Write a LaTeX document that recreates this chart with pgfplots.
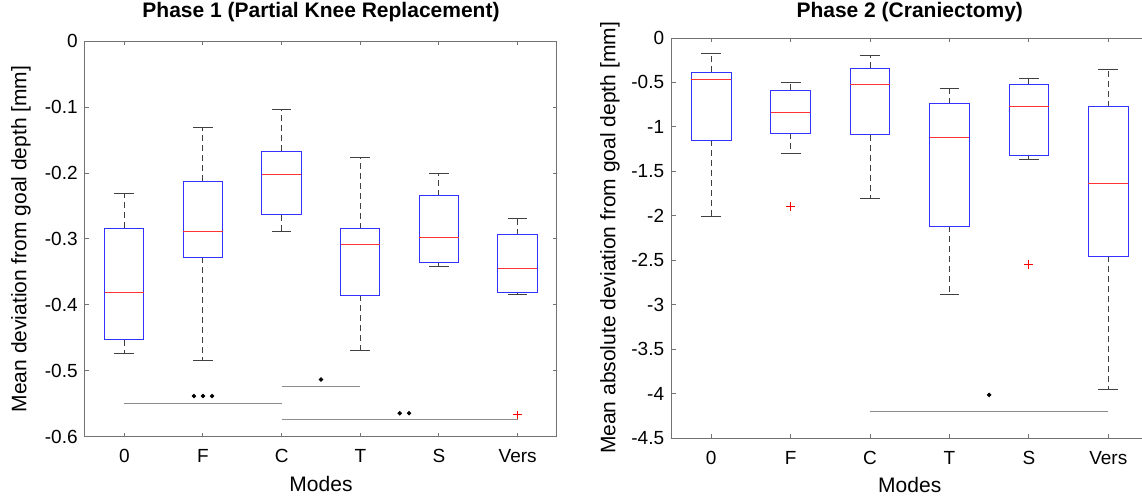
\documentclass[border=0pt]{standalone}
\usepackage{fontspec}
\setmainfont{Liberation Sans}
\usepackage{pgfplots}
\pgfplotsset{compat=1.18}
\usepgfplotslibrary{statistics}

\tikzset{
  whisk/.style={black!75, line width=0.5pt, dash pattern=on 3pt off 2pt},
  wcap/.style={black!75, line width=0.5pt},
}

\pgfplotsset{
  matbox/.style={
    scale only axis,
    xmin=0.5, xmax=6.5,
    xtick={1,2,3,4,5,6},
    xticklabels={0,F,C,T,S,Vers},
    axis line style={black!55, line width=0.5pt},
    tick style={black!55, line width=0.5pt},
    major tick length=2.2pt,
    tick align=inside,
    /pgf/number format/assume math mode=true,
    ticklabel style={font=\fontsize{9.5}{11}\selectfont},
    xticklabel style={anchor=base, yshift=-13pt},
    yticklabel style={anchor=east, inner sep=0pt, xshift=-3.5pt},
    label style={font=\fontsize{10.5}{12}\selectfont},
    title style={font=\fontsize{10.5}{12}\selectfont\bfseries, anchor=base},
    xlabel={Modes},
    xlabel style={at={(axis description cs:0.5,0)}, anchor=base, yshift=-27.35pt},
    boxplot/draw direction=y,
    boxplot/box extend=0.5,
    boxplot/whisker extend=0.25,
    boxplot/every box/.style={draw=blue!80, line width=0.5pt},
    boxplot/every median/.style={draw=red!80, line width=0.5pt},
    boxplot/draw/lower whisker/.code={
      \draw[whisk] (boxplot box cs:\pgfplotsboxplotvalue{lower quartile},0.5)
        -- (boxplot box cs:\pgfplotsboxplotvalue{lower whisker},0.5);
      \draw[wcap] (boxplot whisker cs:\pgfplotsboxplotvalue{lower whisker},0)
        -- (boxplot whisker cs:\pgfplotsboxplotvalue{lower whisker},1);
    },
    boxplot/draw/upper whisker/.code={
      \draw[whisk] (boxplot box cs:\pgfplotsboxplotvalue{upper quartile},0.5)
        -- (boxplot box cs:\pgfplotsboxplotvalue{upper whisker},0.5);
      \draw[wcap] (boxplot whisker cs:\pgfplotsboxplotvalue{upper whisker},0)
        -- (boxplot whisker cs:\pgfplotsboxplotvalue{upper whisker},1);
    },
  },
  sig/.style={black!45, line width=0.5pt, mark=none},
  stars/.style={only marks, mark=*, mark size=0.9pt, black},
  outl/.style={only marks, mark=+, mark size=2.2pt, red, line width=0.5pt},
}

\begin{document}
\begin{tikzpicture}
% Phase 1
\begin{axis}[matbox,
    at={(42.5pt,-20.5pt)}, anchor=north west,
    width=236pt, height=198pt,
    ymin=-0.6, ymax=0,
    ytick={-0.6,-0.5,-0.4,-0.3,-0.2,-0.1,0},
    title={Phase 1 (Partial Knee Replacement)},
    title style={at={(axis description cs:0.5,1)}, yshift=5.85pt},
    ylabel={Mean deviation from goal depth [mm]},
    ylabel style={at={(axis description cs:-0.1356,0.5)}, anchor=center},
  ]
  \addplot[boxplot prepared={draw position=1, lower whisker=-0.474, lower quartile=-0.453,
    median=-0.3806, upper quartile=-0.2836, upper whisker=-0.2318}] coordinates {};
  \addplot[boxplot prepared={draw position=2, lower whisker=-0.4842, lower quartile=-0.3278,
    median=-0.2881, upper quartile=-0.2122, upper whisker=-0.1317}] coordinates {};
  \addplot[boxplot prepared={draw position=3, lower whisker=-0.2881, lower quartile=-0.2629,
    median=-0.2021, upper quartile=-0.1674, upper whisker=-0.1036}] coordinates {};
  \addplot[boxplot prepared={draw position=4, lower whisker=-0.4691, lower quartile=-0.3856,
    median=-0.3087, upper quartile=-0.2846, upper whisker=-0.1770}] coordinates {};
  \addplot[boxplot prepared={draw position=5, lower whisker=-0.3419, lower quartile=-0.3359,
    median=-0.2971, upper quartile=-0.2348, upper whisker=-0.2001}] coordinates {};
  \addplot[boxplot prepared={draw position=6, lower whisker=-0.3836, lower quartile=-0.3806,
    median=-0.3454, upper quartile=-0.2936, upper whisker=-0.2685}] coordinates {};
  \addplot[outl] coordinates {(6,-0.5666)};
  % significance bars
  \addplot[sig] coordinates {(1,-0.5485) (3,-0.5485)};
  \addplot[stars] coordinates {(1.885,-0.538) (2,-0.538) (2.115,-0.538)};
  \addplot[sig] coordinates {(3,-0.5234) (4,-0.5234)};
  \addplot[stars] coordinates {(3.5,-0.513)};
  \addplot[sig] coordinates {(3,-0.5731) (6,-0.5731)};
  \addplot[stars] coordinates {(4.50,-0.564) (4.62,-0.564)};
\end{axis}

% Phase 2
\begin{axis}[matbox,
    at={(335.75pt,-19pt)}, anchor=north west,
    width=238.25pt, height=200pt,
    ymin=-4.5, ymax=0,
    ytick={-4.5,-4,-3.5,-3,-2.5,-2,-1.5,-1,-0.5,0},
    title={Phase 2 (Craniectomy)},
    title style={at={(axis description cs:0.5,1)}, yshift=4.35pt},
    ylabel={Mean absolute deviation from goal depth [mm]},
    ylabel style={at={(axis description cs:-0.129,0.5)}, anchor=center},
  ]
  \addplot[boxplot prepared={draw position=1, lower whisker=-2.008, lower quartile=-1.150,
    median=-0.462, upper quartile=-0.387, upper whisker=-0.177}] coordinates {};
  \addplot[boxplot prepared={draw position=2, lower whisker=-1.301, lower quartile=-1.071,
    median=-0.838, upper quartile=-0.590, upper whisker=-0.496}] coordinates {};
  \addplot[boxplot prepared={draw position=3, lower whisker=-1.801, lower quartile=-1.086,
    median=-0.526, upper quartile=-0.342, upper whisker=-0.195}] coordinates {};
  \addplot[boxplot prepared={draw position=4, lower whisker=-2.883, lower quartile=-2.120,
    median=-1.120, upper quartile=-0.737, upper whisker=-0.564}] coordinates {};
  \addplot[boxplot prepared={draw position=5, lower whisker=-1.365, lower quartile=-1.320,
    median=-0.771, upper quartile=-0.519, upper whisker=-0.451}] coordinates {};
  \addplot[boxplot prepared={draw position=6, lower whisker=-3.951, lower quartile=-2.455,
    median=-1.639, upper quartile=-0.774, upper whisker=-0.357}] coordinates {};
  \addplot[outl] coordinates {(2,-1.895) (5,-2.545)};
  \addplot[sig] coordinates {(3,-4.203) (6,-4.203)};
  \addplot[stars] coordinates {(4.5,-4.015)};
\end{axis}
\pgfresetboundingbox
\useasboundingbox (0,0) rectangle (571pt,-249.5pt);
\end{tikzpicture}
\end{document}
